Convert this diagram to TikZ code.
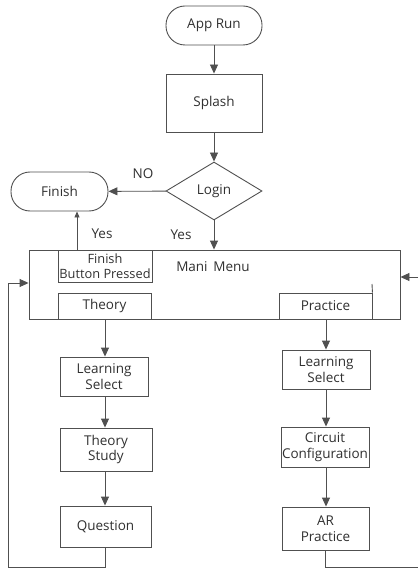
\documentclass[tikz,border=0pt]{standalone}
\usepackage{fontspec}
\setmainfont{Open Sans}
\usetikzlibrary{shapes.geometric,arrows.meta}
\definecolor{ln}{HTML}{505050}
\definecolor{tx}{HTML}{303030}
\tikzset{
  base/.style={draw=ln, line width=0.9pt, text=tx, inner sep=0pt, align=center, font=\fontsize{13.5}{15.5}\selectfont},
  stadium/.style={base, rectangle, rounded corners=19pt},
  boxn/.style={base, rectangle},
  dia/.style={base, diamond, aspect=1.655},
  lbl/.style={text=tx, inner sep=0pt, font=\fontsize{13.5}{15.5}\selectfont},
  arr/.style={draw=ln, line width=0.9pt, -{Triangle[length=9pt,width=8pt]}},
  sarr/.style={draw=ln, line width=0.9pt, -{Triangle[length=6pt,width=5pt]}},
  ln/.style={draw=ln, line width=0.9pt}
}
\begin{document}
\begin{tikzpicture}[x=1pt,y=-1pt]
\useasboundingbox (0,0) rectangle (418,569);
\node[stadium, minimum width=96pt, minimum height=39pt] (app) at (214,25.5) {App Run};
\node[boxn, minimum width=96pt, minimum height=58pt] (splash) at (214,103) {Splash};
\node[dia, minimum width=96pt, minimum height=58pt] (login) at (214,191) {Login};
\node[stadium, minimum width=97pt, minimum height=39pt] (finish) at (59.5,191.5) {Finish};
\node[boxn, minimum width=371pt, minimum height=69pt] (main) at (214.5,284.5) {};
\node[lbl] (mtext) at (213,267) {Mani\, Menu};
\node[boxn, minimum width=94pt, minimum height=32pt, font=\fontsize{12.8}{14.5}\selectfont] (fbp) at (105,266) {Finish\\Button Pressed};
\node[boxn, minimum width=93pt, minimum height=26pt] (theory) at (104.5,306) {Theory};
\node[boxn, minimum width=93pt, minimum height=26pt] (practice) at (325.5,306) {Practice};
\node[boxn, minimum width=88pt, minimum height=39pt] (ls1) at (104,376.5) {Learning\\Select};
\node[boxn, minimum width=92pt, minimum height=43pt] (ts) at (106,449.5) {Theory\\Study};
\node[boxn, minimum width=91pt, minimum height=41pt] (q) at (105.5,526.5) {Question};
\node[boxn, minimum width=88pt, minimum height=39pt] (ls2) at (326,369.5) {Learning\\Select};
\node[boxn, minimum width=88pt, minimum height=40pt] (cc) at (325,447) {Circuit\\Configuration};
\node[boxn, minimum width=87pt, minimum height=43pt] (ar) at (325.5,528.5) {AR\\Practice};
\node[lbl] (no) at (143,174) {NO};
\node[lbl] (yes1) at (102,234) {Yes};
\node[lbl] (yes2) at (181,235) {Yes};
\coordinate (fx) at (77,0);
\coordinate (tx) at (105,0);
\coordinate (lb) at (8,567);
\coordinate (rb) at (418,567);
\coordinate (rin) at (418,277);
\coordinate (lin) at (0,283);
\coordinate (pk) at (372,284);
\draw[arr] (app) -- (splash);
\draw[arr] (splash) -- (login);
\draw[arr] (login) -- (main.north -| login);
\draw[arr] (login) -- (finish);
\draw[sarr] (fbp.north -| fx) -- (finish.south -| fx);
\draw[arr] (theory.south -| tx) -- (ls1.north -| tx);
\draw[arr] (ls1.south -| tx) -- (ts.north -| tx);
\draw[arr] (ts.south -| tx) -- (q.north -| tx);
\draw[arr] (practice.south -| ls2) -- (ls2.north);
\draw[arr] (ls2.south -| ls2) -- (cc.north -| ls2);
\draw[arr] (cc.south -| ls2) -- (ar.north -| ls2);
\draw[arr] (q.south) |- (lb) |- (main.west |- lin);
\draw[ln] (ar.south) |- (rb);
\draw[arr] (rin) -- (main.east |- rin);
\draw[ln] (pk) -- (practice.north east);
\end{tikzpicture}
\end{document}
